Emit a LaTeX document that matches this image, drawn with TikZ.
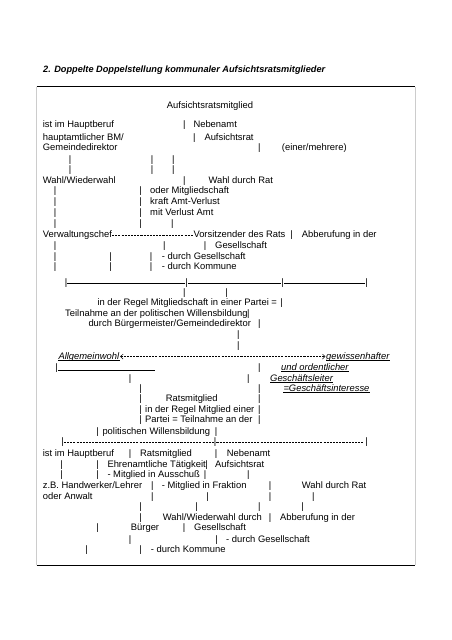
\documentclass[tikz,border=0pt]{standalone}
\usepackage{fontspec}
\setmainfont{Liberation Sans}
\usetikzlibrary{arrows.meta}

\begin{document}
\begin{tikzpicture}[x=1pt,y=-1pt,
  txt/.style={anchor=base west,inner sep=0pt,font=\fontsize{9.4}{11}\selectfont},
  bar/.style={anchor=base,inner sep=0pt,font=\fontsize{9.4}{11}\selectfont},
  dashline/.style={line width=0.5pt,dash pattern=on 2.1pt off 1.05pt},
  uline/.style={line width=0.5pt}]
  \useasboundingbox (0,0) rectangle (452,640);

  % title and frame
  \node[txt,font=\fontsize{9.2}{11}\selectfont\bfseries\itshape] (title) at (43,72.3)
    {2. Doppelte Doppelstellung kommunaler Aufsichtsratsmitglieder};
  \draw[line width=1pt] (36.7,86.7) -- (415,86.7);
  \draw[line width=1pt] (36.7,565) -- (415,565);
  \draw[gray!40,line width=0.8pt] (36.7,86.7) -- (36.7,565);
  \draw[gray!40,line width=0.8pt] (415,86.7) -- (415,565);

  % the vertical bars, row by row
  \foreach \r/\y/\xs in {
      1/127.6/{184.3}, 2/140/{194.3}, 3/150.6/{259.3},
      4/162.6/{70,152,173.3}, 5/172.6/{70,152,173.3}, 6/183.3/{184.3},
      7/193.3/{55,140.7}, 8/204.3/{55,140.7}, 9/215/{55,140.7},
      10/226.6/{55,140.7,172.3}, 11/237.3/{291.7},
      12/248.3/{55,164.3,205}, 13/259.3/{55,110.7,151}, 14/269.3/{55,110.7,151},
      15/285.5/{66,186.7,282.7,366.7}, 16/295/{184.3,226.7},
      17/305/{281.5}, 18/316/{248.3}, 19/326.6/{259.3}, 20/337.6/{238.3}, 21/348.3/{238.3},
      23/370/{56.7,259.3}, 24/381/{130,248.3}, 25/391/{140.7,259.3},
      26/401.6/{140.7,259.3}, 27/412.3/{140.7,259.3}, 28/422.6/{140.7,259.3},
      29/434/{97.7,216}, 30/444.8/{62.5,215,366.7},
      31/456/{130,216}, 32/467.3/{61.7,97.7,206.5}, 33/477.6/{61.7,97.7,205,248.3},
      34/488.3/{152.3,270}, 35/499/{152.3,207.7,270,313.3},
      36/509.3/{140.7,196.7,259.3,302.7}, 37/520/{140.7,270},
      38/530.6/{97.7,184}, 39/542.3/{130,216.7}, 40/552.6/{86.7,140.7}}
    \foreach \x [count=\i] in \xs
      \node[bar] (p\r-\i) at (\x,\y) {|};

  % upper part
  \node[txt] (asm) at (166.7,108.3) {Aufsichtsratsmitglied};
  \node[txt] (hb1) at (42.7,127.6) {ist im Hauptberuf};
  \node[txt] (nba1) at (193.3,127.6) {Nebenamt};
  \node[txt] (hbm) at (42.7,140) {hauptamtlicher BM/};
  \node[txt] (asr1) at (204.3,140) {Aufsichtsrat};
  \node[txt] (gdir) at (42.7,150.6) {Gemeindedirektor};
  \node[txt] (emeh) at (281.7,150.6) {(einer/mehrere)};
  \node[txt] (ww1) at (42.7,183.3) {Wahl/Wiederwahl};
  \node[txt] (wdr1) at (208.3,183.3) {Wahl durch Rat};
  \node[txt] (omg) at (150,193.3) {oder Mitgliedschaft};
  \node[txt] (kav) at (150,204.3) {kraft Amt-Verlust};
  \node[txt] (mva) at (150,215) {mit Verlust Amt};
  \node[txt] (vwc) at (42.7,237.3) {Verwaltungschef};
  \node[txt] (vdr) at (193.3,237.3) {Vorsitzender des Rats};
  \node[txt] (abb1) at (301.7,237.3) {Abberufung in der};
  \node[txt] (ges1) at (215,248.3) {Gesellschaft};
  \node[txt] (dges1) at (161.7,259.3) {- durch Gesellschaft};
  \node[txt] (dkom1) at (161.7,269.3) {- durch Kommune};
  \draw[dashline] (vwc.east) -- (vwc.east -| vdr.west);
  \draw[uline] (p15-1) -- (p15-2);
  \draw[uline] (p15-2) -- (p15-3);
  \draw[uline] (p15-3) -- (p15-4);

  % middle part
  \node[txt] (irm) at (97.3,305) {in der Regel Mitgliedschaft in einer Partei =};
  \node[txt] (tpw) at (65,316) {Teilnahme an der politischen Willensbildung};
  \node[txt] (dbg) at (88.3,326.6) {durch Bürgermeister/Gemeindedirektor};
  \node[txt] (agw) at (58.3,359) {\textit{Allgemeinwohl}};
  \node[txt] (gew) at (326,359) {\textit{gewissenhafter}};
  \node[txt] (uod) at (281,370) {\textit{und ordentlicher}};
  \node[txt] (gsl) at (270,381) {\textit{Geschäftsleiter}};
  \node[txt] (gsi) at (283.3,391) {\textit{=Geschäftsinteresse}};
  \draw[dashline,{Straight Barb[length=2.6pt,width=5pt,line width=0.5pt]}-{Straight Barb[length=2.6pt,width=5pt,line width=0.5pt]}]
    ([xshift=0.6pt]agw.east) -- ([xshift=-0.6pt]agw.east -| gew.west);
  \foreach \n in {agw,gew,uod,gsl,gsi}
    \draw[uline] ([yshift=-1.4pt]\n.base west) -- ([yshift=-1.4pt]\n.base east);
  \coordinate (agwend) at (155,370);
  \draw[uline] (p23-1.base east) -- (p23-1.base east -| agwend);
  \node[txt] (rm1) at (165.7,401.6) {Ratsmitglied};
  \node[txt] (irme) at (145,412.3) {in der Regel Mitglied einer};
  \node[txt] (ptd) at (145,422.6) {Partei = Teilnahme an der};
  \node[txt] (pwb) at (102.3,434) {politischen Willensbildung};
  \coordinate (dashend) at (363.3,444.8);
  \draw[dashline] (p30-1) -- (p30-2);
  \draw[dashline] (p30-2) -- (p30-2 -| dashend);

  % lower part
  \node[txt] (hb2) at (42.7,456) {ist im Hauptberuf};
  \node[txt] (rm2) at (140,456) {Ratsmitglied};
  \node[txt] (nba2) at (226.7,456) {Nebenamt};
  \node[txt] (eat) at (107.3,467.3) {Ehrenamtliche Tätigkeit};
  \node[txt] (asr2) at (215,467.3) {Aufsichtsrat};
  \node[txt] (mia) at (107.3,477.6) {- Mitglied in Ausschuß};
  \node[txt] (zbh) at (42.7,488.3) {z.B. Handwerker/Lehrer};
  \node[txt] (mif) at (161.7,488.3) {- Mitglied in Fraktion};
  \node[txt] (wdr2) at (301.7,488.3) {Wahl durch Rat};
  \node[txt] (oan) at (42.7,499) {oder Anwalt};
  \node[txt] (ww2) at (162.7,520) {Wahl/Wiederwahl durch};
  \node[txt] (abb2) at (280,520) {Abberufung in der};
  \node[txt] (bgr) at (130.7,530.6) {Bürger};
  \node[txt] (ges2) at (194,530.6) {Gesellschaft};
  \node[txt] (dges2) at (226,542.3) {- durch Gesellschaft};
  \node[txt] (dkom2) at (150.7,552.6) {- durch Kommune};
\end{tikzpicture}
\end{document}
